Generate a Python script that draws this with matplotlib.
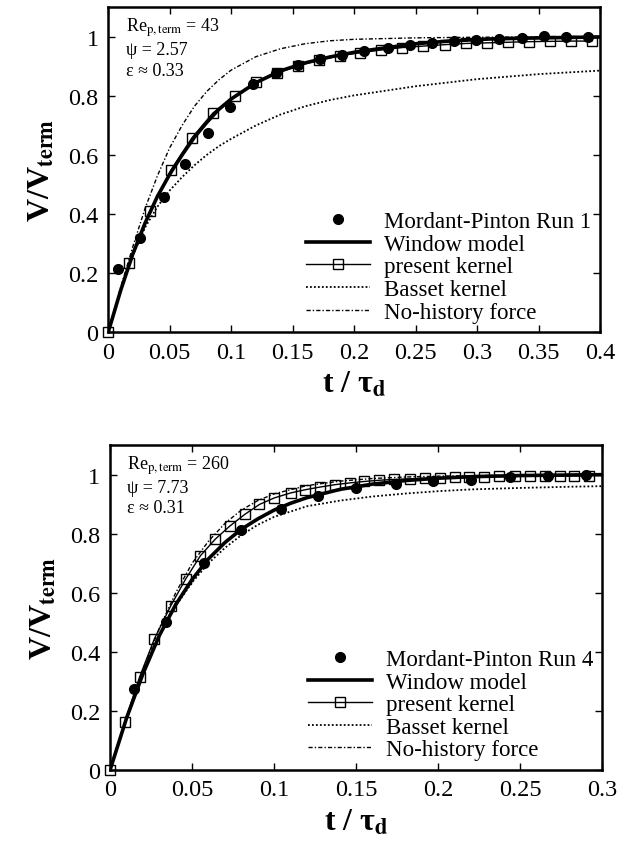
import matplotlib
matplotlib.use("Agg")
import matplotlib.pyplot as plt
from matplotlib.ticker import FuncFormatter

plt.rcParams['font.family'] = 'Liberation Serif'
plt.rcParams['mathtext.fontset'] = 'stix'

# ---- Run 1 (Re_p,term = 43) ----
run1_t = [0.008, 0.026, 0.045, 0.062, 0.081, 0.099, 0.118, 0.136, 0.154, 0.172, 0.190,
          0.208, 0.227, 0.245, 0.263, 0.281, 0.299, 0.318, 0.336, 0.354, 0.372, 0.390]
run1_v = [0.215, 0.318, 0.458, 0.569, 0.674, 0.762, 0.840, 0.878, 0.905, 0.924, 0.940,
          0.951, 0.963, 0.972, 0.980, 0.986, 0.990, 0.994, 0.998, 1.004, 1.000, 1.000]

win1_t = [0, 0.01, 0.02, 0.03, 0.04, 0.05, 0.06, 0.07, 0.08, 0.09, 0.10, 0.12,
          0.14, 0.16, 0.18, 0.20, 0.22, 0.25, 0.28, 0.31, 0.34, 0.37, 0.40]
win1_v = [0, 0.14, 0.265, 0.37, 0.46, 0.535, 0.60, 0.66, 0.71, 0.755, 0.79, 0.845,
          0.885, 0.912, 0.932, 0.948, 0.96, 0.977, 0.987, 0.993, 0.996, 0.998, 1.0]

ker1_t = [0, 0.017, 0.034, 0.051, 0.068, 0.085, 0.103, 0.120, 0.137, 0.154, 0.171, 0.188,
          0.205, 0.222, 0.239, 0.256, 0.274, 0.291, 0.308, 0.325, 0.342, 0.359, 0.376, 0.393]
ker1_v = [0, 0.232, 0.411, 0.549, 0.658, 0.742, 0.800, 0.846, 0.877, 0.902, 0.921, 0.936,
          0.947, 0.956, 0.964, 0.969, 0.974, 0.978, 0.980, 0.982, 0.984, 0.985, 0.986, 0.986]

bas1_t = [0, 0.01, 0.02, 0.03, 0.04, 0.05, 0.06, 0.07, 0.08, 0.09, 0.10, 0.12,
          0.14, 0.16, 0.18, 0.20, 0.25, 0.30, 0.35, 0.40]
bas1_v = [0, 0.14, 0.26, 0.355, 0.425, 0.48, 0.525, 0.565, 0.60, 0.63, 0.655, 0.70,
          0.737, 0.765, 0.786, 0.802, 0.833, 0.857, 0.874, 0.886]

noh1_t = [0, 0.01, 0.02, 0.03, 0.04, 0.05, 0.06, 0.07, 0.08, 0.09, 0.10, 0.12,
          0.14, 0.16, 0.18, 0.20, 0.25, 0.30, 0.35, 0.40]
noh1_v = [0, 0.15, 0.29, 0.42, 0.53, 0.625, 0.70, 0.765, 0.815, 0.855, 0.888, 0.933,
          0.96, 0.977, 0.987, 0.992, 0.997, 0.999, 1.0, 1.0]

# ---- Run 4 (Re_p,term = 260) ----
run4_t = [0.0146, 0.034, 0.057, 0.080, 0.104, 0.127, 0.150, 0.174, 0.197, 0.220,
          0.244, 0.267, 0.290]
run4_v = [0.275, 0.50, 0.699, 0.811, 0.885, 0.927, 0.955, 0.968, 0.977, 0.983,
          0.992, 0.997, 1.0]

win4_t = [0, 0.01, 0.02, 0.03, 0.04, 0.05, 0.06, 0.07, 0.08, 0.09, 0.10, 0.11,
          0.12, 0.14, 0.16, 0.18, 0.20, 0.22, 0.25, 0.30]
win4_v = [0, 0.175, 0.325, 0.455, 0.56, 0.645, 0.715, 0.77, 0.815, 0.85, 0.88, 0.903,
          0.922, 0.95, 0.968, 0.98, 0.988, 0.993, 0.997, 1.0]

ker4_t = [0, 0.009, 0.018, 0.027, 0.037, 0.046, 0.055, 0.064, 0.073, 0.082, 0.091,
          0.100, 0.110, 0.119, 0.128, 0.137, 0.146, 0.155, 0.164, 0.173, 0.183,
          0.192, 0.201, 0.210, 0.219, 0.228, 0.237, 0.247, 0.256, 0.265, 0.274,
          0.283, 0.292]
ker4_v = [0, 0.163, 0.315, 0.444, 0.556, 0.646, 0.725, 0.781, 0.826, 0.865, 0.899,
          0.921, 0.938, 0.949, 0.958, 0.966, 0.972, 0.977, 0.981, 0.984, 0.986,
          0.988, 0.990, 0.991, 0.992, 0.993, 0.994, 0.994, 0.995, 0.995, 0.995,
          0.996, 0.996]

bas4_t = [0, 0.01, 0.02, 0.03, 0.04, 0.05, 0.06, 0.07, 0.08, 0.09, 0.10, 0.12,
          0.14, 0.16, 0.18, 0.20, 0.22, 0.25, 0.28, 0.30]
bas4_v = [0, 0.175, 0.33, 0.455, 0.555, 0.635, 0.70, 0.752, 0.795, 0.83, 0.857, 0.893,
          0.912, 0.926, 0.936, 0.944, 0.95, 0.955, 0.959, 0.961]

noh4_t = [0, 0.01, 0.02, 0.03, 0.04, 0.05, 0.06, 0.07, 0.08, 0.09, 0.10, 0.12,
          0.14, 0.16, 0.18, 0.20, 0.25, 0.30]
noh4_v = [0, 0.18, 0.34, 0.48, 0.60, 0.70, 0.775, 0.835, 0.88, 0.912, 0.935, 0.963,
          0.978, 0.987, 0.992, 0.995, 0.999, 1.0]

x_ticks_1 = [0, 0.05, 0.1, 0.15, 0.2, 0.25, 0.3, 0.35, 0.4]
x_ticks_4 = [0, 0.05, 0.1, 0.15, 0.2, 0.25, 0.3]
y_ticks = [0, 0.2, 0.4, 0.6, 0.8, 1.0]


def draw_panel(ax, run, win, ker, bas, noh, run_label, info, xticks):
    ax.plot(run[0], run[1], 'o', color='black', ms=7, clip_on=False,
            label=run_label, zorder=5)
    ax.plot(win[0], win[1], '-', color='black', lw=2.6, label='Window model', zorder=4)
    ax.plot(ker[0], ker[1], '-s', color='black', lw=1.0, ms=7.5, mfc='none',
            mew=1.0, clip_on=False, label='present kernel', zorder=3)
    ax.plot(bas[0], bas[1], color='black', lw=1.3, ls=(0, (1, 1.2)),
            label='Basset kernel')
    ax.plot(noh[0], noh[1], color='black', lw=1.0, ls=(0, (3, 1.5, 1, 1.5)),
            label='No-history force')

    ax.set_xlim(0, xticks[-1])
    ax.set_ylim(0, 1.1)
    ax.set_xticks(xticks)
    ax.set_yticks(y_ticks)
    fmt = FuncFormatter(lambda v, p: '%g' % round(v, 3))
    ax.xaxis.set_major_formatter(fmt)
    ax.yaxis.set_major_formatter(fmt)
    ax.tick_params(direction='in', length=5, width=1, top=True, right=True,
                   labelsize=17.5, pad=7)
    for s in ax.spines.values():
        s.set_linewidth(1.8)

    ax.set_xlabel(r't / τ$_{\mathbf{d}}$', fontsize=23, fontweight='bold', labelpad=5)
    ax.set_ylabel(r'V/V$_{\mathbf{term}}$', fontsize=23, fontweight='bold', labelpad=8)

    ax.text(0.035, 0.975, info, transform=ax.transAxes, va='top', ha='left',
            fontsize=13, linespacing=1.25)

    ax.legend(loc='lower right', frameon=False, fontsize=16.5, numpoints=1,
              handlelength=2.8, handletextpad=0.6, labelspacing=0.07,
              borderaxespad=0.2, borderpad=0.2)


fig = plt.figure(figsize=(6.26, 8.45), dpi=100)
ax1 = fig.add_axes([0.173, 0.606, 0.786, 0.384])
ax2 = fig.add_axes([0.176, 0.088, 0.786, 0.384])

draw_panel(ax1, (run1_t, run1_v), (win1_t, win1_v), (ker1_t, ker1_v),
           (bas1_t, bas1_v), (noh1_t, noh1_v), 'Mordant-Pinton Run 1',
           'Re$_{\\rm p,term}$ = 43\nψ = 2.57\nε ≈ 0.33', x_ticks_1)
draw_panel(ax2, (run4_t, run4_v), (win4_t, win4_v), (ker4_t, ker4_v),
           (bas4_t, bas4_v), (noh4_t, noh4_v), 'Mordant-Pinton Run 4',
           'Re$_{\\rm p,term}$ = 260\nψ = 7.73\nε ≈ 0.31', x_ticks_4)

fig.savefig('out.png', dpi=100)
